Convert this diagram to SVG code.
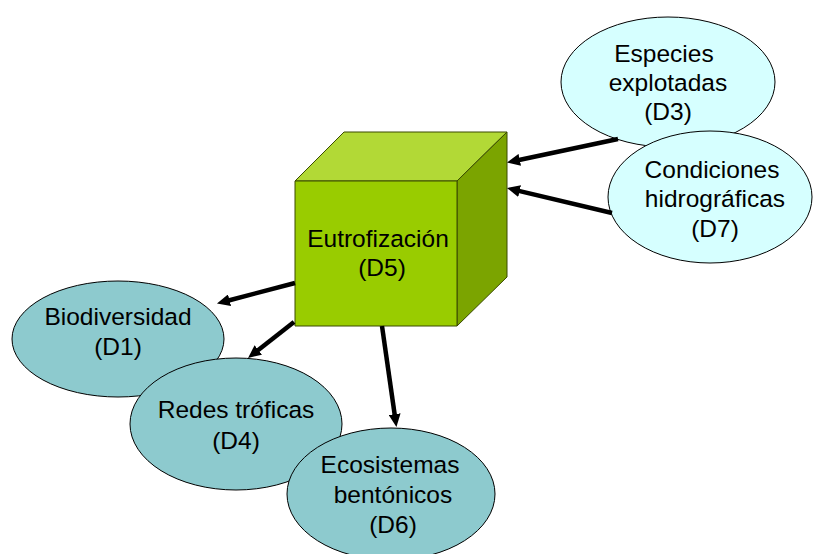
<svg xmlns="http://www.w3.org/2000/svg" width="813" height="554" viewBox="0 0 813 554">
<style>
text{font-family:"Liberation Sans",Arial,sans-serif;font-size:24.5px;fill:#000;text-anchor:middle}
.lt{fill:#D6FFFF;stroke:#000;stroke-width:1}
.dk{fill:#8DCACE;stroke:#000;stroke-width:1}
.cube{stroke:#3A4A00;stroke-width:1;stroke-linejoin:round}
.arr{stroke:#000;stroke-width:4.5;fill:none;marker-end:url(#ah)}
</style>
<defs>
<marker id="ah" markerUnits="userSpaceOnUse" viewBox="0 0 13 12" markerWidth="13" markerHeight="12" refX="2" refY="6" orient="auto">
<path d="M0,0 L13,6 L0,12 z" fill="#000"/>
</marker>
</defs>
<rect width="813" height="554" fill="#fff"/>
<g id="d3">
<ellipse class="lt" cx="668" cy="82" rx="107" ry="65"/>
<text x="664" y="62">Especies</text>
<text x="668" y="91">explotadas</text>
<text x="668" y="120">(D3)</text>
</g>
<g id="d7">
<ellipse class="lt" cx="710" cy="197" rx="102" ry="66"/>
<text x="712" y="178">Condiciones</text>
<text x="715" y="207">hidrográficas</text>
<text x="715" y="237">(D7)</text>
</g>
<g id="d1">
<ellipse class="dk" cx="118" cy="339" rx="106" ry="58"/>
<text x="118" y="325">Biodiversidad</text>
<text x="118" y="355">(D1)</text>
</g>
<g id="d4">
<ellipse class="dk" cx="236" cy="424" rx="106" ry="66"/>
<text x="236" y="418">Redes tróficas</text>
<text x="236" y="449">(D4)</text>
</g>
<g id="d6">
<ellipse class="dk" cx="391" cy="494" rx="104" ry="66"/>
<text x="390" y="473">Ecosistemas</text>
<text x="393" y="503">bentónicos</text>
<text x="393" y="533">(D6)</text>
</g>
<g id="d5">
<polygon class="cube" points="295,181 344,132 507,132 457,181" fill="#B2D936"/>
<polygon class="cube" points="457,181 507,132 507,277 457,326" fill="#7BA400"/>
<rect class="cube" x="295" y="181" width="162" height="145" fill="#99CC00"/>
<text x="378" y="247">Eutrofización</text>
<text x="382" y="276">(D5)</text>
</g>
<g id="connectors">
<line class="arr" x1="618" y1="139" x2="517.8" y2="160.2"/>
<line class="arr" x1="612" y1="213" x2="517.7" y2="190.6"/>
<line class="arr" x1="295" y1="283" x2="227.6" y2="300.7"/>
<line class="arr" x1="294" y1="322" x2="256.7" y2="351.2"/>
<line class="arr" x1="382" y1="326" x2="394.9" y2="416.1"/>
</g>
</svg>
